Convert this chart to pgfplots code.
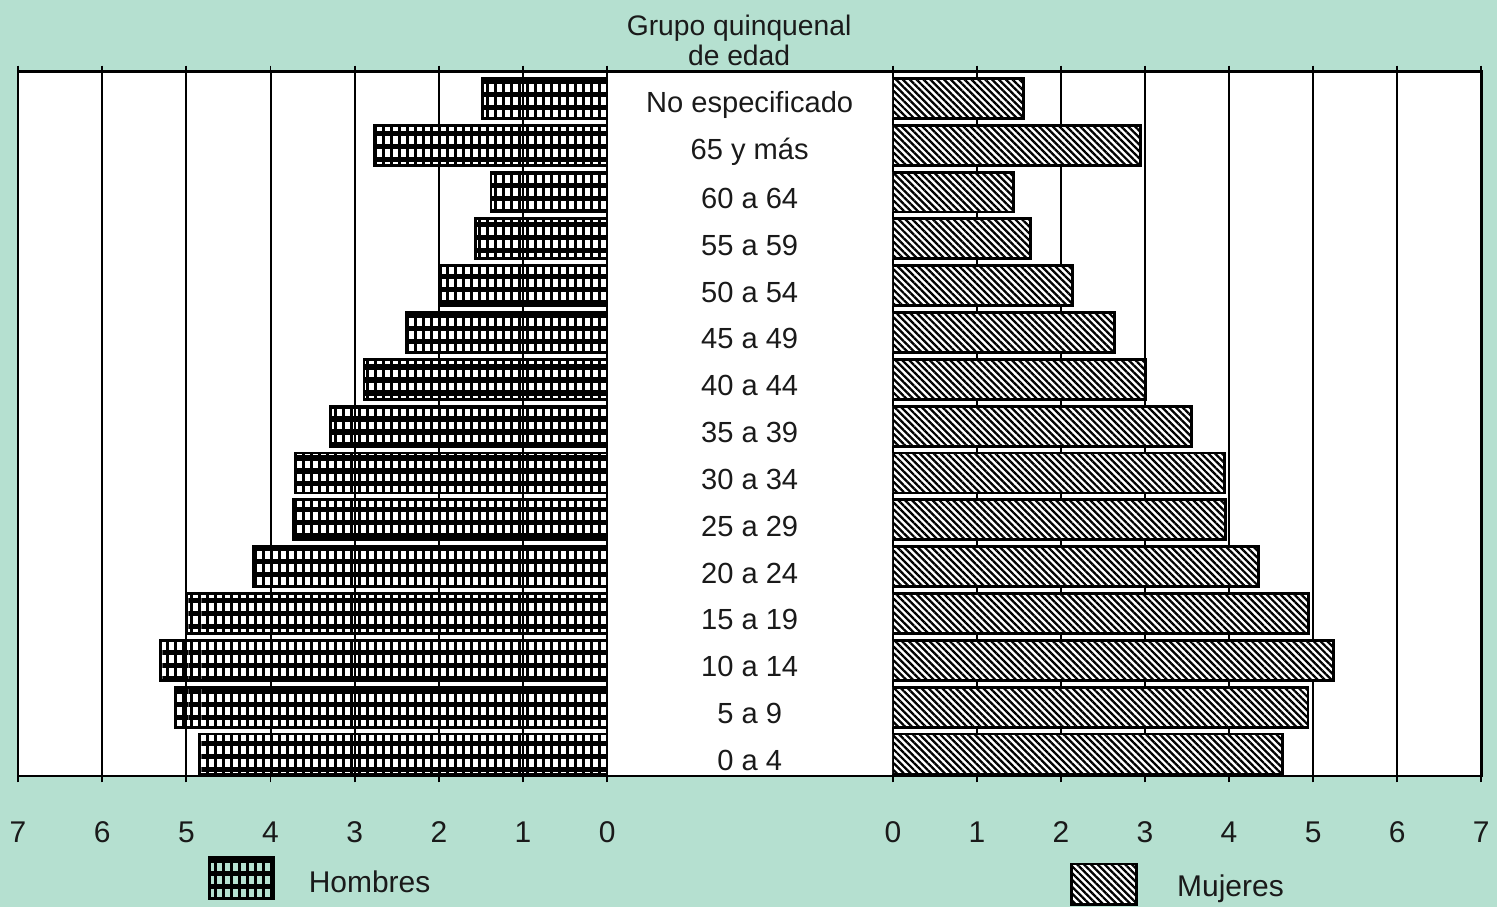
\documentclass[border=0pt]{standalone}
\usepackage{fontspec}
\setmainfont{Liberation Sans}
\usepackage{pgfplots}
\usepackage{pgfplotstable}
\pgfplotsset{compat=1.18}
\usetikzlibrary{patterns.meta}
\definecolor{mint}{HTML}{B5E0D0}
\definecolor{ink}{HTML}{1A1A1A}

% porcentaje, grupo (0 = 0 a 4 ... 14 = No especificado)
\pgfplotstableread{
x y
4.85 0
5.13 1
5.31 2
5.00 3
4.20 4
3.73 5
3.70 6
3.29 7
2.89 8
2.38 9
1.98 10
1.57 11
1.38 12
2.77 13
1.48 14
}\hombres
\pgfplotstableread{
x y
4.64 0
4.94 1
5.24 2
4.95 3
4.35 4
3.96 5
3.95 6
3.55 7
3.01 8
2.64 9
2.14 10
1.64 11
1.44 12
2.95 13
1.55 14
}\mujeres

\tikzset{
  hrows/.style={pattern={Lines[angle=0,distance=4.55pt,line width=1.8pt]}},
  hcols/.style={pattern={Lines[angle=90,distance=2.8pt,line width=0.95pt]}},
  mhatch/.style={pattern={Lines[angle=-45,distance=1.7pt,line width=0.8pt]}},
}

\pgfplotsset{
  pyr/.style={
    scale only axis, width=206.5pt, height=246.75pt,
    xmin=0, xmax=7, ymin=-0.47, ymax=14.565,
    enlargelimits=false,
    xbar, bar width=14pt,
    xtick={0,...,7},
    xmajorgrids, major grid style={black, line width=0.7pt},
    axis line style={draw=none},
    tick align=outside, major tick length=2.2pt,
    xtick style={black, line width=0.6pt},
    ytick style={draw=none},
    xticklabel style={font=\fontsize{10.5}{12}\selectfont, text=ink, anchor=center, yshift=-17.5pt},
    /pgf/number format/assume math mode=true,
  }
}

\begin{document}
\begin{tikzpicture}[x=0.35pt,y=0.35pt]
\fill[mint] (0,0) rectangle (1499,908);
\fill[white] (18,131) rectangle (1483,836);

% Hombres
\begin{axis}[pyr, at={(6.3pt,45.85pt)}, anchor=south west, x dir=reverse, ytick=\empty]
\addplot[draw=none, hrows, bar shift=0pt] table {\hombres};
\addplot[draw=none, hcols, bar shift=0pt] table {\hombres};
\addplot[draw=black, line width=1pt, bar shift=0pt] table {\hombres};
\end{axis}

% Mujeres
\begin{axis}[pyr, at={(312.9pt,45.85pt)}, anchor=south west, width=206.15pt,
  ytick={0,...,14},
  yticklabels={0 a 4, 5 a 9, 10 a 14, 15 a 19, 20 a 24, 25 a 29, 30 a 34,
    35 a 39, 40 a 44, 45 a 49, 50 a 54, 55 a 59, 60 a 64, 65 y más, No especificado},
  yticklabel style={font=\fontsize{10.2}{12}\selectfont, text=ink, anchor=center,
    xshift=-48pt, yshift=-2.2pt}]
\addplot[draw=none, fill=white, bar shift=0pt] table {\mujeres};
\addplot[draw=black, line width=1pt, mhatch, bar shift=0pt] table {\mujeres};
\end{axis}

\draw[line width=1pt] (18,131) rectangle (1483,836);

\node[align=center, text=ink, font=\fontsize{9.9}{10.5}\selectfont] at (740,868)
  {Grupo quinquenal\\de edad};

\fill[hrows] (210,8) rectangle (274,50);
\fill[hcols] (210,8) rectangle (274,50);
\draw[line width=1pt] (210,8) rectangle (274,50);
\node[text=ink, font=\fontsize{10.5}{12}\selectfont] at (370,25) {Hombres};
\fill[white] (1073,2) rectangle (1138,43);
\draw[line width=1pt, mhatch] (1073,2) rectangle (1138,43);
\node[text=ink, font=\fontsize{10.5}{12}\selectfont] at (1232,18) {Mujeres};
\end{tikzpicture}
\end{document}
